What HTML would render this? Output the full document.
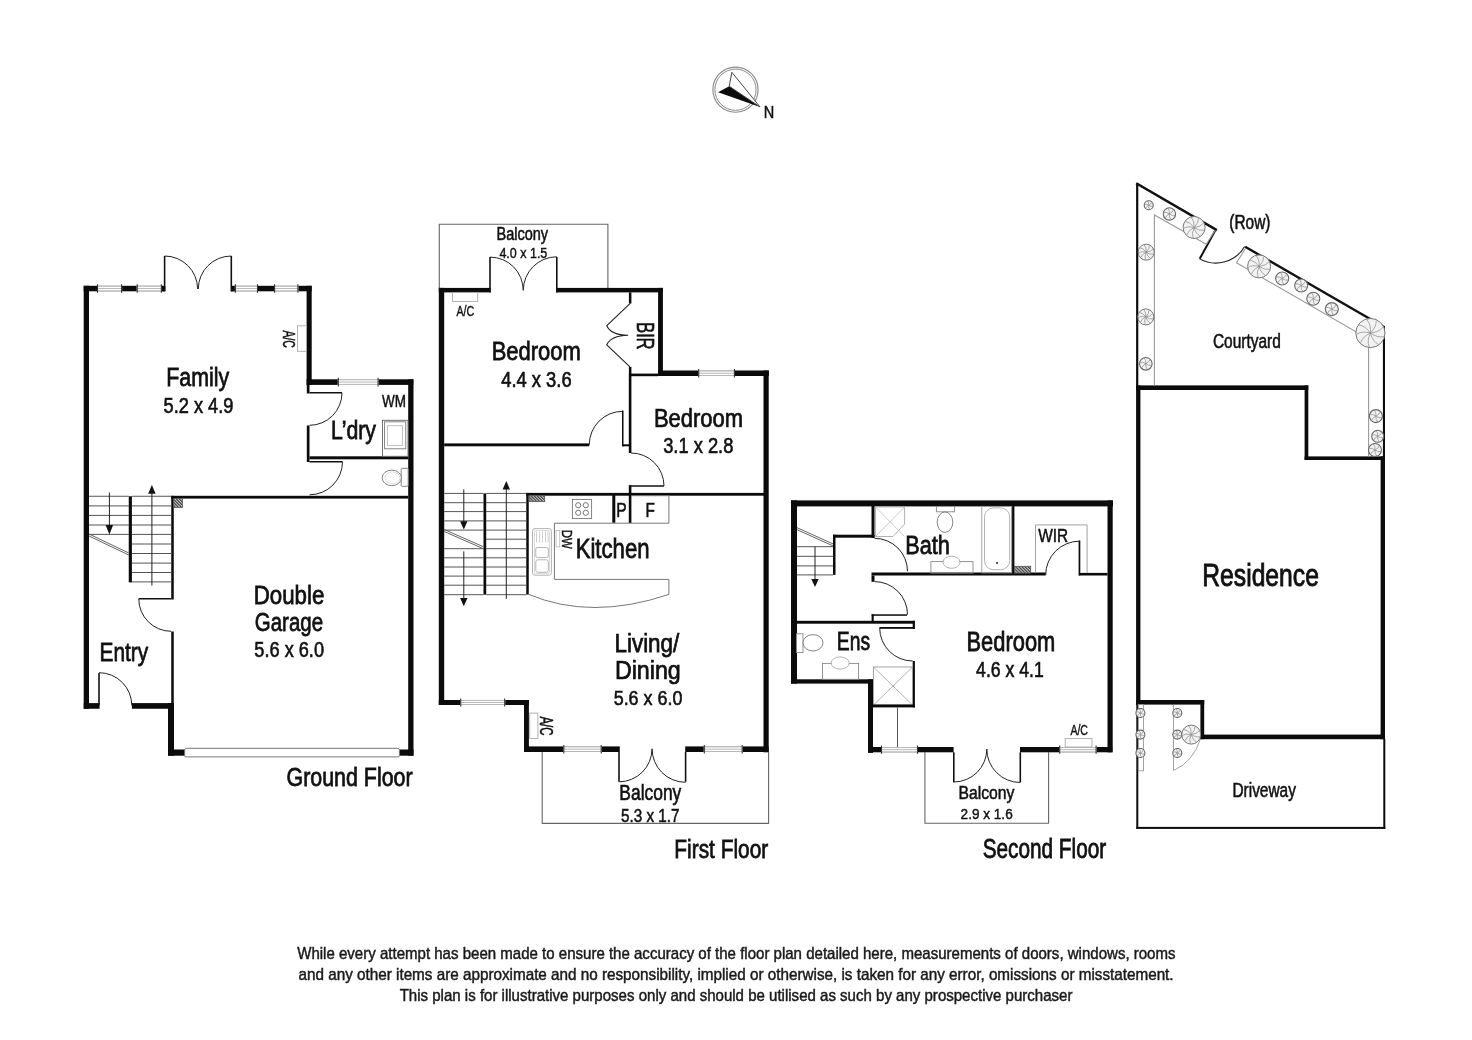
<!DOCTYPE html>
<html><head><meta charset="utf-8"><style>
html,body{margin:0;padding:0;background:#fff;}
body{width:1472px;height:1040px;overflow:hidden;}
svg{display:block;will-change:transform;}
text{font-family:"Liberation Sans",sans-serif;}
</style></head><body>
<svg width="1472" height="1040" viewBox="0 0 1472 1040">
<defs><pattern id="hat" patternUnits="userSpaceOnUse" width="2.2" height="2.2" patternTransform="rotate(-45)"><rect width="2.2" height="2.2" fill="#c8c8c8"/><rect width="1.2" height="2.2" fill="#444"/></pattern></defs>
<rect width="1472" height="1040" fill="#fff"/>
<rect x="83.70" y="285.80" width="228.00" height="5.50" fill="#0b0b0b"/>
<rect x="97.00" y="285.80" width="25.10" height="5.50" fill="#fff"/>
<line x1="97.00" y1="286.30" x2="122.10" y2="286.30" stroke="#b8b8b8" stroke-width="1.0" stroke-linecap="butt"/>
<line x1="97.00" y1="288.55" x2="122.10" y2="288.55" stroke="#b8b8b8" stroke-width="1.0" stroke-linecap="butt"/>
<line x1="97.00" y1="290.80" x2="122.10" y2="290.80" stroke="#b8b8b8" stroke-width="1.0" stroke-linecap="butt"/>
<line x1="97.50" y1="284.30" x2="97.50" y2="292.80" stroke="#333" stroke-width="1.1" stroke-linecap="butt"/>
<line x1="121.60" y1="284.30" x2="121.60" y2="292.80" stroke="#333" stroke-width="1.1" stroke-linecap="butt"/>
<rect x="136.70" y="285.80" width="25.20" height="5.50" fill="#fff"/>
<line x1="136.70" y1="286.30" x2="161.90" y2="286.30" stroke="#b8b8b8" stroke-width="1.0" stroke-linecap="butt"/>
<line x1="136.70" y1="288.55" x2="161.90" y2="288.55" stroke="#b8b8b8" stroke-width="1.0" stroke-linecap="butt"/>
<line x1="136.70" y1="290.80" x2="161.90" y2="290.80" stroke="#b8b8b8" stroke-width="1.0" stroke-linecap="butt"/>
<line x1="137.20" y1="284.30" x2="137.20" y2="292.80" stroke="#333" stroke-width="1.1" stroke-linecap="butt"/>
<line x1="161.40" y1="284.30" x2="161.40" y2="292.80" stroke="#333" stroke-width="1.1" stroke-linecap="butt"/>
<rect x="165.20" y="284.80" width="65.80" height="7.50" fill="#fff"/>
<rect x="161.90" y="286.30" width="3.30" height="5.00" fill="#0b0b0b"/>
<rect x="231.00" y="286.30" width="3.90" height="5.00" fill="#0b0b0b"/>
<rect x="234.90" y="285.80" width="23.10" height="5.50" fill="#fff"/>
<line x1="234.90" y1="286.30" x2="258.00" y2="286.30" stroke="#b8b8b8" stroke-width="1.0" stroke-linecap="butt"/>
<line x1="234.90" y1="288.55" x2="258.00" y2="288.55" stroke="#b8b8b8" stroke-width="1.0" stroke-linecap="butt"/>
<line x1="234.90" y1="290.80" x2="258.00" y2="290.80" stroke="#b8b8b8" stroke-width="1.0" stroke-linecap="butt"/>
<line x1="235.40" y1="284.30" x2="235.40" y2="292.80" stroke="#333" stroke-width="1.1" stroke-linecap="butt"/>
<line x1="257.50" y1="284.30" x2="257.50" y2="292.80" stroke="#333" stroke-width="1.1" stroke-linecap="butt"/>
<rect x="274.10" y="285.80" width="24.30" height="5.50" fill="#fff"/>
<line x1="274.10" y1="286.30" x2="298.40" y2="286.30" stroke="#b8b8b8" stroke-width="1.0" stroke-linecap="butt"/>
<line x1="274.10" y1="288.55" x2="298.40" y2="288.55" stroke="#b8b8b8" stroke-width="1.0" stroke-linecap="butt"/>
<line x1="274.10" y1="290.80" x2="298.40" y2="290.80" stroke="#b8b8b8" stroke-width="1.0" stroke-linecap="butt"/>
<line x1="274.60" y1="284.30" x2="274.60" y2="292.80" stroke="#333" stroke-width="1.1" stroke-linecap="butt"/>
<line x1="297.90" y1="284.30" x2="297.90" y2="292.80" stroke="#333" stroke-width="1.1" stroke-linecap="butt"/>
<line x1="164.60" y1="256.00" x2="164.60" y2="291.30" stroke="#111" stroke-width="1.6" stroke-linecap="butt"/>
<line x1="231.30" y1="256.00" x2="231.30" y2="291.30" stroke="#111" stroke-width="1.6" stroke-linecap="butt"/>
<path d="M164.60,256.00 A33.00,33.00 0 0 1 197.60,289.00" stroke="#222" stroke-width="1.0" fill="none" />
<path d="M231.30,256.00 A33.00,33.00 0 0 0 198.30,289.00" stroke="#222" stroke-width="1.0" fill="none" />
<rect x="83.70" y="285.80" width="5.30" height="422.95" fill="#0b0b0b"/>
<rect x="306.60" y="285.80" width="5.10" height="99.10" fill="#0b0b0b"/>
<rect x="297.5" y="325.8" width="8.9" height="25.5" fill="none" stroke="#aaa" stroke-width="0.9"/>
<g transform="translate(282.50,330.50) rotate(90)"><text x="-0.02" y="0" font-size="17.15" textLength="17.42" lengthAdjust="spacingAndGlyphs" fill="#111" stroke="#111" stroke-width="0.50">A/C</text></g>
<rect x="306.60" y="379.30" width="106.70" height="5.60" fill="#0b0b0b"/>
<rect x="337.80" y="379.30" width="40.80" height="5.60" fill="#fff"/>
<line x1="337.80" y1="379.80" x2="378.60" y2="379.80" stroke="#b8b8b8" stroke-width="1.0" stroke-linecap="butt"/>
<line x1="337.80" y1="382.10" x2="378.60" y2="382.10" stroke="#b8b8b8" stroke-width="1.0" stroke-linecap="butt"/>
<line x1="337.80" y1="384.40" x2="378.60" y2="384.40" stroke="#b8b8b8" stroke-width="1.0" stroke-linecap="butt"/>
<line x1="338.30" y1="377.80" x2="338.30" y2="386.40" stroke="#333" stroke-width="1.1" stroke-linecap="butt"/>
<line x1="378.10" y1="377.80" x2="378.10" y2="386.40" stroke="#333" stroke-width="1.1" stroke-linecap="butt"/>
<rect x="408.20" y="379.30" width="5.30" height="376.40" fill="#0b0b0b"/>
<rect x="306.80" y="384.90" width="2.70" height="8.60" fill="#0b0b0b"/>
<rect x="306.80" y="425.50" width="2.70" height="36.50" fill="#0b0b0b"/>
<line x1="309.50" y1="392.80" x2="342.00" y2="392.80" stroke="#111" stroke-width="1.5" stroke-linecap="butt"/>
<path d="M342.00,392.80 A32.50,32.50 0 0 1 309.50,425.30" stroke="#222" stroke-width="1.0" fill="none" />
<rect x="309.50" y="456.30" width="98.70" height="3.00" fill="#0b0b0b"/>
<line x1="309.50" y1="461.80" x2="342.50" y2="461.80" stroke="#111" stroke-width="1.5" stroke-linecap="butt"/>
<path d="M342.50,461.80 A33.00,33.00 0 0 1 309.50,494.80" stroke="#222" stroke-width="1.0" fill="none" />
<text x="381.94" y="407.00" font-size="16.57" textLength="23.97" lengthAdjust="spacingAndGlyphs" fill="#111" stroke="#111" stroke-width="0.48">WM</text>
<text x="331.00" y="438.90" font-size="26.16" textLength="44.94" lengthAdjust="spacingAndGlyphs" fill="#111" stroke="#111" stroke-width="0.76">L’dry</text>
<rect x="382.5" y="420.3" width="25.5" height="36" fill="#fff" stroke="#666" stroke-width="0.9"/>
<rect x="384.6" y="421.8" width="21.2" height="27.0" fill="none" stroke="#777" stroke-width="0.9"/>
<rect x="387.4" y="425.7" width="15" height="19.8" fill="none" stroke="#bbb" stroke-width="0.9"/>
<rect x="401.2" y="468.3" width="7" height="18" rx="1" fill="#fff" stroke="#777" stroke-width="0.9"/>
<ellipse cx="391.8" cy="477.9" rx="9.6" ry="7.8" fill="#fff" stroke="#777" stroke-width="0.9"/>
<ellipse cx="392.5" cy="477.9" rx="7.5" ry="6" fill="none" stroke="#ccc" stroke-width="0.7"/>
<rect x="171.25" y="495.80" width="236.95" height="2.80" fill="#0b0b0b"/>
<rect x="171.25" y="495.80" width="2.50" height="103.70" fill="#0b0b0b"/>
<rect x="171.25" y="631.50" width="2.50" height="72.00" fill="#0b0b0b"/>
<line x1="138.75" y1="598.80" x2="171.25" y2="598.80" stroke="#111" stroke-width="1.5" stroke-linecap="butt"/>
<path d="M138.75,598.80 A32.50,32.50 0 0 0 171.25,631.30" stroke="#222" stroke-width="1.0" fill="none" />
<rect x="168.00" y="703.00" width="6.00" height="52.70" fill="#0b0b0b"/>
<rect x="83.75" y="703.10" width="15.85" height="5.65" fill="#0b0b0b"/>
<rect x="131.90" y="703.10" width="42.10" height="5.65" fill="#0b0b0b"/>
<line x1="99.00" y1="673.00" x2="99.00" y2="705.00" stroke="#111" stroke-width="1.6" stroke-linecap="butt"/>
<path d="M99.00,672.70 A32.80,32.80 0 0 1 131.80,705.50" stroke="#222" stroke-width="1.0" fill="none" />
<rect x="168.00" y="749.50" width="245.50" height="6.20" fill="#0b0b0b"/>
<rect x="184.7" y="748.3" width="214.7" height="8.6" rx="1.5" fill="#fff" stroke="#777" stroke-width="1.0"/>
<rect x="173.75" y="498.60" width="8.75" height="8.90" fill="url(#hat)" stroke="#555" stroke-width="0.8"/>
<line x1="89.00" y1="496.25" x2="128.75" y2="496.25" stroke="#555" stroke-width="1.0" stroke-linecap="butt"/>
<line x1="131.90" y1="496.25" x2="171.25" y2="496.25" stroke="#555" stroke-width="1.0" stroke-linecap="butt"/>
<line x1="89.00" y1="505.90" x2="128.75" y2="505.90" stroke="#555" stroke-width="1.0" stroke-linecap="butt"/>
<line x1="131.90" y1="505.90" x2="171.25" y2="505.90" stroke="#555" stroke-width="1.0" stroke-linecap="butt"/>
<line x1="89.00" y1="515.40" x2="128.75" y2="515.40" stroke="#555" stroke-width="1.0" stroke-linecap="butt"/>
<line x1="131.90" y1="515.40" x2="171.25" y2="515.40" stroke="#555" stroke-width="1.0" stroke-linecap="butt"/>
<line x1="89.00" y1="525.00" x2="128.75" y2="525.00" stroke="#555" stroke-width="1.0" stroke-linecap="butt"/>
<line x1="131.90" y1="525.00" x2="171.25" y2="525.00" stroke="#555" stroke-width="1.0" stroke-linecap="butt"/>
<line x1="89.00" y1="534.40" x2="128.75" y2="534.40" stroke="#555" stroke-width="1.0" stroke-linecap="butt"/>
<line x1="131.90" y1="534.40" x2="171.25" y2="534.40" stroke="#555" stroke-width="1.0" stroke-linecap="butt"/>
<line x1="131.90" y1="544.00" x2="171.25" y2="544.00" stroke="#555" stroke-width="1.0" stroke-linecap="butt"/>
<line x1="131.90" y1="553.50" x2="171.25" y2="553.50" stroke="#555" stroke-width="1.0" stroke-linecap="butt"/>
<line x1="131.90" y1="563.10" x2="171.25" y2="563.10" stroke="#555" stroke-width="1.0" stroke-linecap="butt"/>
<line x1="131.90" y1="572.50" x2="171.25" y2="572.50" stroke="#555" stroke-width="1.0" stroke-linecap="butt"/>
<line x1="131.90" y1="581.90" x2="171.25" y2="581.90" stroke="#555" stroke-width="1.0" stroke-linecap="butt"/>
<rect x="128.75" y="496.25" width="3.15" height="86.15" fill="#0b0b0b"/>
<line x1="109.40" y1="492.50" x2="109.40" y2="526.00" stroke="#222" stroke-width="1.0" stroke-linecap="butt"/>
<path d="M105.6,525 L113.1,525 L109.4,534.4 Z" stroke="none" stroke-width="1.0" fill="#111" />
<line x1="151.90" y1="585.60" x2="151.90" y2="493.00" stroke="#222" stroke-width="1.0" stroke-linecap="butt"/>
<path d="M148.1,493.75 L155.6,493.75 L151.9,485.0 Z" stroke="none" stroke-width="1.0" fill="#111" />
<line x1="89.00" y1="534.00" x2="128.75" y2="553.00" stroke="#666" stroke-width="1.0" stroke-linecap="butt"/>
<line x1="89.00" y1="536.00" x2="128.75" y2="555.00" stroke="#666" stroke-width="1.0" stroke-linecap="butt"/>
<text x="166.25" y="386.20" font-size="26.16" textLength="62.89" lengthAdjust="spacingAndGlyphs" fill="#111" stroke="#111" stroke-width="0.76">Family</text>
<text x="163.57" y="412.60" font-size="22.24" textLength="69.79" lengthAdjust="spacingAndGlyphs" fill="#111" stroke="#111" stroke-width="0.64">5.2 x 4.9</text>
<text x="99.54" y="660.60" font-size="26.31" textLength="48.60" lengthAdjust="spacingAndGlyphs" fill="#111" stroke="#111" stroke-width="0.76">Entry</text>
<text x="253.67" y="604.10" font-size="26.16" textLength="70.62" lengthAdjust="spacingAndGlyphs" fill="#111" stroke="#111" stroke-width="0.76">Double</text>
<text x="254.87" y="630.70" font-size="26.16" textLength="68.14" lengthAdjust="spacingAndGlyphs" fill="#111" stroke="#111" stroke-width="0.76">Garage</text>
<text x="254.37" y="657.20" font-size="21.95" textLength="69.64" lengthAdjust="spacingAndGlyphs" fill="#111" stroke="#111" stroke-width="0.63">5.6 x 6.0</text>
<text x="286.52" y="786.20" font-size="26.31" textLength="126.13" lengthAdjust="spacingAndGlyphs" fill="#111" stroke="#111" stroke-width="0.76">Ground Floor</text>
<path d="M439.3,288 L439.3,224.3 L607.9,224.3 L607.9,288" fill="none" stroke="#666" stroke-width="1.1"/>
<rect x="438.80" y="287.90" width="51.80" height="4.50" fill="#0b0b0b"/>
<rect x="556.20" y="287.90" width="106.70" height="4.50" fill="#0b0b0b"/>
<line x1="490.00" y1="256.90" x2="490.00" y2="292.40" stroke="#111" stroke-width="1.6" stroke-linecap="butt"/>
<line x1="556.80" y1="256.90" x2="556.80" y2="292.40" stroke="#111" stroke-width="1.6" stroke-linecap="butt"/>
<path d="M490.00,257.10 A33.20,33.20 0 0 1 523.20,290.30" stroke="#222" stroke-width="1.0" fill="none" />
<path d="M556.80,256.80 A33.50,33.50 0 0 0 523.30,290.30" stroke="#222" stroke-width="1.0" fill="none" />
<text x="496.51" y="240.20" font-size="17.88" textLength="51.62" lengthAdjust="spacingAndGlyphs" fill="#111" stroke="#111" stroke-width="0.52">Balcony</text>
<text x="499.41" y="258.20" font-size="14.97" textLength="47.91" lengthAdjust="spacingAndGlyphs" fill="#111" stroke="#111" stroke-width="0.43">4.0 x 1.5</text>
<rect x="452.6" y="292.4" width="25.1" height="9.1" fill="none" stroke="#aaa" stroke-width="0.9"/>
<text x="456.48" y="316.30" font-size="14.97" textLength="17.83" lengthAdjust="spacingAndGlyphs" fill="#111" stroke="#111" stroke-width="0.43">A/C</text>
<rect x="438.80" y="287.90" width="5.40" height="417.10" fill="#0b0b0b"/>
<rect x="658.10" y="287.90" width="4.80" height="88.10" fill="#0b0b0b"/>
<rect x="628.90" y="292.40" width="2.50" height="11.10" fill="#0b0b0b"/>
<rect x="628.90" y="367.00" width="2.50" height="9.00" fill="#0b0b0b"/>
<path d="M630.2,303.3 L606.8,325.7 Q611,335 628.2,335.3 Q611,335.6 606.8,344.8 L630.2,367.1" stroke="#222" stroke-width="1.1" fill="none" />
<g transform="translate(636.60,323.70) rotate(90)"><text x="-1.34" y="0" font-size="23.69" textLength="27.19" lengthAdjust="spacingAndGlyphs" fill="#111" stroke="#111" stroke-width="0.68">BIR</text></g>
<rect x="658.10" y="370.50" width="110.80" height="5.50" fill="#0b0b0b"/>
<rect x="698.20" y="370.50" width="36.70" height="5.50" fill="#fff"/>
<line x1="698.20" y1="371.00" x2="734.90" y2="371.00" stroke="#b8b8b8" stroke-width="1.0" stroke-linecap="butt"/>
<line x1="698.20" y1="373.25" x2="734.90" y2="373.25" stroke="#b8b8b8" stroke-width="1.0" stroke-linecap="butt"/>
<line x1="698.20" y1="375.50" x2="734.90" y2="375.50" stroke="#b8b8b8" stroke-width="1.0" stroke-linecap="butt"/>
<line x1="698.70" y1="369.00" x2="698.70" y2="377.50" stroke="#333" stroke-width="1.1" stroke-linecap="butt"/>
<line x1="734.40" y1="369.00" x2="734.40" y2="377.50" stroke="#333" stroke-width="1.1" stroke-linecap="butt"/>
<rect x="628.90" y="373.60" width="29.20" height="2.60" fill="#0b0b0b"/>
<rect x="763.50" y="370.50" width="5.20" height="381.80" fill="#0b0b0b"/>
<rect x="628.80" y="376.00" width="2.60" height="77.00" fill="#0b0b0b"/>
<rect x="628.80" y="485.20" width="2.60" height="37.80" fill="#0b0b0b"/>
<rect x="444.20" y="443.40" width="145.00" height="2.90" fill="#0b0b0b"/>
<rect x="622.00" y="410.50" width="1.50" height="35.80" fill="#0b0b0b"/>
<rect x="622.00" y="444.30" width="9.00" height="2.00" fill="#0b0b0b"/>
<path d="M622.75,411.30 A33.50,33.50 0 0 0 589.25,444.80" stroke="#222" stroke-width="1.0" fill="none" />
<path d="M631.00,453.00 A33.00,33.00 0 0 1 664.00,486.00" stroke="#222" stroke-width="1.0" fill="none" />
<line x1="629.50" y1="486.00" x2="664.00" y2="486.00" stroke="#111" stroke-width="1.5" stroke-linecap="butt"/>
<rect x="526.25" y="492.90" width="241.75" height="2.80" fill="#0b0b0b"/>
<rect x="526.25" y="492.90" width="2.50" height="101.70" fill="#0b0b0b"/>
<rect x="612.30" y="495.00" width="3.00" height="27.80" fill="#0b0b0b"/>
<text x="616.22" y="516.60" font-size="20.64" textLength="10.40" lengthAdjust="spacingAndGlyphs" fill="#111" stroke="#111" stroke-width="0.60">P</text>
<path d="M631.4,495.7 L668.9,495.7 L668.9,523.2 L554.4,523.2 L554.4,579.4 L668.9,579.4 L668.9,594.4 Q591.2,620.6 528.75,594.4" fill="none" stroke="#777" stroke-width="1.0"/>
<text x="645.44" y="516.60" font-size="20.64" textLength="9.37" lengthAdjust="spacingAndGlyphs" fill="#111" stroke="#111" stroke-width="0.60">F</text>
<rect x="572.4" y="499.4" width="19.2" height="19.2" fill="none" stroke="#777" stroke-width="0.9"/>
<circle cx="578.2" cy="505.2" r="2.6" fill="none" stroke="#666" stroke-width="0.9"/>
<circle cx="585.8" cy="505.2" r="2.6" fill="none" stroke="#666" stroke-width="0.9"/>
<circle cx="578.2" cy="512.8" r="2.6" fill="none" stroke="#666" stroke-width="0.9"/>
<circle cx="585.8" cy="512.8" r="2.6" fill="none" stroke="#666" stroke-width="0.9"/>
<rect x="532.5" y="528.6" width="18.9" height="46.6" rx="2.5" fill="none" stroke="#aaa" stroke-width="0.9"/>
<rect x="534.5" y="530.5" width="15" height="43" rx="1.5" fill="none" stroke="#ccc" stroke-width="0.7"/>
<line x1="536.50" y1="531.50" x2="536.50" y2="542.50" stroke="#bbb" stroke-width="0.7" stroke-linecap="butt"/>
<line x1="539.50" y1="531.50" x2="539.50" y2="542.50" stroke="#bbb" stroke-width="0.7" stroke-linecap="butt"/>
<line x1="542.50" y1="531.50" x2="542.50" y2="542.50" stroke="#bbb" stroke-width="0.7" stroke-linecap="butt"/>
<line x1="545.50" y1="531.50" x2="545.50" y2="542.50" stroke="#bbb" stroke-width="0.7" stroke-linecap="butt"/>
<line x1="548.00" y1="531.50" x2="548.00" y2="542.50" stroke="#bbb" stroke-width="0.7" stroke-linecap="butt"/>
<rect x="535.8" y="547.5" width="12.5" height="10" rx="1.5" fill="none" stroke="#aaa" stroke-width="0.9"/>
<rect x="535.8" y="559.8" width="12.5" height="12.5" rx="2" fill="none" stroke="#aaa" stroke-width="0.9"/>
<rect x="556.0" y="530.4" width="3.7" height="16.5" fill="none" stroke="#bbb" stroke-width="0.8"/>
<g transform="translate(561.90,530.60) rotate(90)"><text x="-0.94" y="0" font-size="15.41" textLength="19.13" lengthAdjust="spacingAndGlyphs" fill="#111" stroke="#111" stroke-width="0.45">DW</text></g>
<text x="575.68" y="558.10" font-size="27.18" textLength="73.85" lengthAdjust="spacingAndGlyphs" fill="#111" stroke="#111" stroke-width="0.79">Kitchen</text>
<rect x="529.00" y="495.70" width="15.70" height="5.90" fill="url(#hat)" stroke="#555" stroke-width="0.8"/>
<line x1="444.20" y1="493.40" x2="483.50" y2="493.40" stroke="#555" stroke-width="1.0" stroke-linecap="butt"/>
<line x1="486.20" y1="493.40" x2="526.25" y2="493.40" stroke="#555" stroke-width="1.0" stroke-linecap="butt"/>
<line x1="444.20" y1="502.70" x2="483.50" y2="502.70" stroke="#555" stroke-width="1.0" stroke-linecap="butt"/>
<line x1="486.20" y1="502.70" x2="526.25" y2="502.70" stroke="#555" stroke-width="1.0" stroke-linecap="butt"/>
<line x1="444.20" y1="511.60" x2="483.50" y2="511.60" stroke="#555" stroke-width="1.0" stroke-linecap="butt"/>
<line x1="486.20" y1="511.60" x2="526.25" y2="511.60" stroke="#555" stroke-width="1.0" stroke-linecap="butt"/>
<line x1="444.20" y1="520.90" x2="483.50" y2="520.90" stroke="#555" stroke-width="1.0" stroke-linecap="butt"/>
<line x1="486.20" y1="520.90" x2="526.25" y2="520.90" stroke="#555" stroke-width="1.0" stroke-linecap="butt"/>
<line x1="444.20" y1="530.10" x2="483.50" y2="530.10" stroke="#555" stroke-width="1.0" stroke-linecap="butt"/>
<line x1="486.20" y1="530.10" x2="526.25" y2="530.10" stroke="#555" stroke-width="1.0" stroke-linecap="butt"/>
<line x1="486.20" y1="539.20" x2="526.25" y2="539.20" stroke="#555" stroke-width="1.0" stroke-linecap="butt"/>
<line x1="444.20" y1="548.70" x2="483.50" y2="548.70" stroke="#555" stroke-width="1.0" stroke-linecap="butt"/>
<line x1="486.20" y1="548.70" x2="526.25" y2="548.70" stroke="#555" stroke-width="1.0" stroke-linecap="butt"/>
<line x1="444.20" y1="557.80" x2="483.50" y2="557.80" stroke="#555" stroke-width="1.0" stroke-linecap="butt"/>
<line x1="486.20" y1="557.80" x2="526.25" y2="557.80" stroke="#555" stroke-width="1.0" stroke-linecap="butt"/>
<line x1="444.20" y1="567.00" x2="483.50" y2="567.00" stroke="#555" stroke-width="1.0" stroke-linecap="butt"/>
<line x1="486.20" y1="567.00" x2="526.25" y2="567.00" stroke="#555" stroke-width="1.0" stroke-linecap="butt"/>
<line x1="444.20" y1="576.10" x2="483.50" y2="576.10" stroke="#555" stroke-width="1.0" stroke-linecap="butt"/>
<line x1="486.20" y1="576.10" x2="526.25" y2="576.10" stroke="#555" stroke-width="1.0" stroke-linecap="butt"/>
<line x1="444.20" y1="585.20" x2="483.50" y2="585.20" stroke="#555" stroke-width="1.0" stroke-linecap="butt"/>
<line x1="486.20" y1="585.20" x2="526.25" y2="585.20" stroke="#555" stroke-width="1.0" stroke-linecap="butt"/>
<line x1="444.20" y1="594.70" x2="483.50" y2="594.70" stroke="#555" stroke-width="1.0" stroke-linecap="butt"/>
<line x1="486.20" y1="594.70" x2="526.25" y2="594.70" stroke="#555" stroke-width="1.0" stroke-linecap="butt"/>
<rect x="483.50" y="493.40" width="2.70" height="101.30" fill="#0b0b0b"/>
<line x1="463.80" y1="489.40" x2="463.80" y2="522.00" stroke="#222" stroke-width="1.0" stroke-linecap="butt"/>
<path d="M460.1,521.3 L467.5,521.3 L463.8,529.5 Z" stroke="none" stroke-width="1.0" fill="#111" />
<line x1="463.80" y1="551.40" x2="463.80" y2="599.00" stroke="#222" stroke-width="1.0" stroke-linecap="butt"/>
<path d="M460.1,598 L467.5,598 L463.8,606.2 Z" stroke="none" stroke-width="1.0" fill="#111" />
<line x1="506.30" y1="598.90" x2="506.30" y2="489.00" stroke="#222" stroke-width="1.0" stroke-linecap="butt"/>
<path d="M502.6,489.4 L510.0,489.4 L506.3,481.1 Z" stroke="none" stroke-width="1.0" fill="#111" />
<line x1="444.20" y1="529.50" x2="483.50" y2="546.80" stroke="#666" stroke-width="1.0" stroke-linecap="butt"/>
<line x1="444.20" y1="531.50" x2="483.50" y2="548.80" stroke="#666" stroke-width="1.0" stroke-linecap="butt"/>
<rect x="438.80" y="700.00" width="90.10" height="5.00" fill="#0b0b0b"/>
<rect x="460.20" y="700.00" width="45.00" height="5.00" fill="#fff"/>
<line x1="460.20" y1="700.50" x2="505.20" y2="700.50" stroke="#b8b8b8" stroke-width="1.0" stroke-linecap="butt"/>
<line x1="460.20" y1="702.50" x2="505.20" y2="702.50" stroke="#b8b8b8" stroke-width="1.0" stroke-linecap="butt"/>
<line x1="460.20" y1="704.50" x2="505.20" y2="704.50" stroke="#b8b8b8" stroke-width="1.0" stroke-linecap="butt"/>
<line x1="460.70" y1="698.50" x2="460.70" y2="706.50" stroke="#333" stroke-width="1.1" stroke-linecap="butt"/>
<line x1="504.70" y1="698.50" x2="504.70" y2="706.50" stroke="#333" stroke-width="1.1" stroke-linecap="butt"/>
<rect x="524.00" y="700.00" width="4.90" height="51.80" fill="#0b0b0b"/>
<rect x="529.7" y="713.1" width="8.2" height="25.4" fill="none" stroke="#aaa" stroke-width="0.9"/>
<g transform="translate(540.40,716.40) rotate(90)"><text x="-0.02" y="0" font-size="17.73" textLength="19.26" lengthAdjust="spacingAndGlyphs" fill="#111" stroke="#111" stroke-width="0.51">A/C</text></g>
<rect x="524.00" y="746.40" width="95.80" height="5.60" fill="#0b0b0b"/>
<rect x="685.20" y="746.40" width="83.50" height="5.60" fill="#0b0b0b"/>
<rect x="563.30" y="746.40" width="38.40" height="5.60" fill="#fff"/>
<line x1="563.30" y1="746.90" x2="601.70" y2="746.90" stroke="#b8b8b8" stroke-width="1.0" stroke-linecap="butt"/>
<line x1="563.30" y1="749.20" x2="601.70" y2="749.20" stroke="#b8b8b8" stroke-width="1.0" stroke-linecap="butt"/>
<line x1="563.30" y1="751.50" x2="601.70" y2="751.50" stroke="#b8b8b8" stroke-width="1.0" stroke-linecap="butt"/>
<line x1="563.80" y1="744.90" x2="563.80" y2="753.50" stroke="#333" stroke-width="1.1" stroke-linecap="butt"/>
<line x1="601.20" y1="744.90" x2="601.20" y2="753.50" stroke="#333" stroke-width="1.1" stroke-linecap="butt"/>
<rect x="703.80" y="746.40" width="38.90" height="5.60" fill="#fff"/>
<line x1="703.80" y1="746.90" x2="742.70" y2="746.90" stroke="#b8b8b8" stroke-width="1.0" stroke-linecap="butt"/>
<line x1="703.80" y1="749.20" x2="742.70" y2="749.20" stroke="#b8b8b8" stroke-width="1.0" stroke-linecap="butt"/>
<line x1="703.80" y1="751.50" x2="742.70" y2="751.50" stroke="#b8b8b8" stroke-width="1.0" stroke-linecap="butt"/>
<line x1="704.30" y1="744.90" x2="704.30" y2="753.50" stroke="#333" stroke-width="1.1" stroke-linecap="butt"/>
<line x1="742.20" y1="744.90" x2="742.20" y2="753.50" stroke="#333" stroke-width="1.1" stroke-linecap="butt"/>
<path d="M542.2,752 L542.2,823.4 L768.6,823.4 L768.6,752" fill="none" stroke="#666" stroke-width="1.1"/>
<line x1="619.00" y1="752.00" x2="619.00" y2="781.80" stroke="#111" stroke-width="1.6" stroke-linecap="butt"/>
<line x1="685.60" y1="752.00" x2="685.60" y2="781.80" stroke="#111" stroke-width="1.6" stroke-linecap="butt"/>
<path d="M619.00,781.80 A33.00,33.00 0 0 0 652.00,748.80" stroke="#222" stroke-width="1.0" fill="none" />
<path d="M685.60,782.30 A33.50,33.50 0 0 1 652.10,748.80" stroke="#222" stroke-width="1.0" fill="none" />
<text x="619.37" y="799.50" font-size="21.80" textLength="61.96" lengthAdjust="spacingAndGlyphs" fill="#111" stroke="#111" stroke-width="0.63">Balcony</text>
<text x="620.99" y="821.50" font-size="18.31" textLength="58.48" lengthAdjust="spacingAndGlyphs" fill="#111" stroke="#111" stroke-width="0.53">5.3 x 1.7</text>
<text x="491.70" y="360.30" font-size="26.60" textLength="89.15" lengthAdjust="spacingAndGlyphs" fill="#111" stroke="#111" stroke-width="0.77">Bedroom</text>
<text x="501.28" y="386.80" font-size="22.82" textLength="70.33" lengthAdjust="spacingAndGlyphs" fill="#111" stroke="#111" stroke-width="0.66">4.4 x 3.6</text>
<text x="653.90" y="426.90" font-size="25.58" textLength="89.15" lengthAdjust="spacingAndGlyphs" fill="#111" stroke="#111" stroke-width="0.74">Bedroom</text>
<text x="663.20" y="453.10" font-size="21.22" textLength="70.19" lengthAdjust="spacingAndGlyphs" fill="#111" stroke="#111" stroke-width="0.61">3.1 x 2.8</text>
<text x="614.46" y="652.20" font-size="25.87" textLength="64.84" lengthAdjust="spacingAndGlyphs" fill="#111" stroke="#111" stroke-width="0.75">Living/</text>
<text x="614.89" y="678.70" font-size="25.44" textLength="65.91" lengthAdjust="spacingAndGlyphs" fill="#111" stroke="#111" stroke-width="0.74">Dining</text>
<text x="613.68" y="705.10" font-size="20.35" textLength="68.72" lengthAdjust="spacingAndGlyphs" fill="#111" stroke="#111" stroke-width="0.59">5.6 x 6.0</text>
<text x="674.29" y="858.20" font-size="26.16" textLength="93.96" lengthAdjust="spacingAndGlyphs" fill="#111" stroke="#111" stroke-width="0.76">First Floor</text>
<rect x="791.00" y="500.40" width="322.00" height="6.00" fill="#0b0b0b"/>
<rect x="791.00" y="500.40" width="6.00" height="183.20" fill="#0b0b0b"/>
<rect x="1107.50" y="500.40" width="5.20" height="251.90" fill="#0b0b0b"/>
<rect x="791.00" y="679.30" width="82.00" height="4.30" fill="#0b0b0b"/>
<rect x="868.00" y="679.30" width="5.00" height="73.60" fill="#0b0b0b"/>
<rect x="868.00" y="747.00" width="85.60" height="5.30" fill="#0b0b0b"/>
<rect x="1020.00" y="747.00" width="92.30" height="5.30" fill="#0b0b0b"/>
<rect x="881.00" y="747.00" width="37.00" height="5.30" fill="#fff"/>
<line x1="881.00" y1="747.50" x2="918.00" y2="747.50" stroke="#b8b8b8" stroke-width="1.0" stroke-linecap="butt"/>
<line x1="881.00" y1="749.65" x2="918.00" y2="749.65" stroke="#b8b8b8" stroke-width="1.0" stroke-linecap="butt"/>
<line x1="881.00" y1="751.80" x2="918.00" y2="751.80" stroke="#b8b8b8" stroke-width="1.0" stroke-linecap="butt"/>
<line x1="881.50" y1="745.50" x2="881.50" y2="753.80" stroke="#333" stroke-width="1.1" stroke-linecap="butt"/>
<line x1="917.50" y1="745.50" x2="917.50" y2="753.80" stroke="#333" stroke-width="1.1" stroke-linecap="butt"/>
<rect x="1059.20" y="747.00" width="37.40" height="5.30" fill="#fff"/>
<line x1="1059.20" y1="747.50" x2="1096.60" y2="747.50" stroke="#b8b8b8" stroke-width="1.0" stroke-linecap="butt"/>
<line x1="1059.20" y1="749.65" x2="1096.60" y2="749.65" stroke="#b8b8b8" stroke-width="1.0" stroke-linecap="butt"/>
<line x1="1059.20" y1="751.80" x2="1096.60" y2="751.80" stroke="#b8b8b8" stroke-width="1.0" stroke-linecap="butt"/>
<line x1="1059.70" y1="745.50" x2="1059.70" y2="753.80" stroke="#333" stroke-width="1.1" stroke-linecap="butt"/>
<line x1="1096.10" y1="745.50" x2="1096.10" y2="753.80" stroke="#333" stroke-width="1.1" stroke-linecap="butt"/>
<path d="M924.9,752 L924.9,823.3 L1048.6,823.3 L1048.6,752" fill="none" stroke="#666" stroke-width="1.1"/>
<line x1="953.80" y1="752.30" x2="953.80" y2="782.20" stroke="#111" stroke-width="1.6" stroke-linecap="butt"/>
<line x1="1020.30" y1="752.30" x2="1020.30" y2="782.20" stroke="#111" stroke-width="1.6" stroke-linecap="butt"/>
<path d="M953.80,782.00 A33.00,33.00 0 0 0 986.80,749.00" stroke="#222" stroke-width="1.0" fill="none" />
<path d="M1020.30,782.50 A33.50,33.50 0 0 1 986.80,749.00" stroke="#222" stroke-width="1.0" fill="none" />
<text x="958.51" y="799.40" font-size="18.46" textLength="55.92" lengthAdjust="spacingAndGlyphs" fill="#111" stroke="#111" stroke-width="0.53">Balcony</text>
<text x="960.62" y="818.80" font-size="15.12" textLength="52.08" lengthAdjust="spacingAndGlyphs" fill="#111" stroke="#111" stroke-width="0.44">2.9 x 1.6</text>
<rect x="1065.2" y="738.6" width="26.8" height="8.4" fill="none" stroke="#aaa" stroke-width="0.9"/>
<text x="1070.38" y="735.10" font-size="14.10" textLength="17.62" lengthAdjust="spacingAndGlyphs" fill="#111" stroke="#111" stroke-width="0.41">A/C</text>
<rect x="871.50" y="506.00" width="3.00" height="32.00" fill="#0b0b0b"/>
<rect x="833.00" y="534.70" width="41.50" height="3.00" fill="#0b0b0b"/>
<rect x="833.00" y="534.70" width="2.50" height="40.20" fill="#0b0b0b"/>
<line x1="797.00" y1="546.70" x2="833.00" y2="546.70" stroke="#555" stroke-width="1.0" stroke-linecap="butt"/>
<line x1="797.00" y1="556.30" x2="833.00" y2="556.30" stroke="#555" stroke-width="1.0" stroke-linecap="butt"/>
<line x1="797.00" y1="565.90" x2="833.00" y2="565.90" stroke="#555" stroke-width="1.0" stroke-linecap="butt"/>
<line x1="797.00" y1="574.90" x2="833.00" y2="574.90" stroke="#555" stroke-width="1.0" stroke-linecap="butt"/>
<line x1="815.00" y1="546.70" x2="815.00" y2="580.00" stroke="#222" stroke-width="1.0" stroke-linecap="butt"/>
<path d="M811.3,579.1 L818.7,579.1 L815.0,587.0 Z" stroke="none" stroke-width="1.0" fill="#111" />
<line x1="797.00" y1="527.70" x2="833.00" y2="543.90" stroke="#666" stroke-width="1.0" stroke-linecap="butt"/>
<line x1="797.00" y1="529.70" x2="833.00" y2="545.90" stroke="#666" stroke-width="1.0" stroke-linecap="butt"/>
<path d="M874.50,538.30 A33.00,33.00 0 0 1 907.50,571.30" stroke="#222" stroke-width="1.0" fill="none" />
<rect x="871.50" y="572.50" width="174.20" height="3.00" fill="#0b0b0b"/>
<rect x="1078.90" y="572.90" width="28.60" height="2.60" fill="#0b0b0b"/>
<rect x="1011.70" y="506.00" width="2.70" height="69.00" fill="#0b0b0b"/>
<rect x="871.50" y="575.50" width="3.00" height="6.30" fill="#0b0b0b"/>
<path d="M874.50,581.60 A33.00,33.00 0 0 1 907.50,614.60" stroke="#222" stroke-width="1.0" fill="none" />
<rect x="871.60" y="614.30" width="35.40" height="1.50" fill="#0b0b0b"/>
<rect x="871.60" y="614.30" width="2.10" height="6.70" fill="#0b0b0b"/>
<rect x="796.50" y="620.80" width="118.40" height="2.90" fill="#0b0b0b"/>
<rect x="912.70" y="620.80" width="2.20" height="8.00" fill="#0b0b0b"/>
<rect x="879.50" y="627.00" width="35.40" height="1.80" fill="#0b0b0b"/>
<path d="M879.70,628.00 A33.00,33.00 0 0 0 912.70,661.00" stroke="#222" stroke-width="1.0" fill="none" />
<rect x="912.70" y="661.00" width="2.20" height="46.40" fill="#0b0b0b"/>
<rect x="873.5" y="667.0" width="39" height="38" fill="none" stroke="#999" stroke-width="0.9"/>
<line x1="873.50" y1="667.00" x2="912.50" y2="705.00" stroke="#aaa" stroke-width="0.9" stroke-linecap="butt"/>
<line x1="912.50" y1="667.00" x2="873.50" y2="705.00" stroke="#aaa" stroke-width="0.9" stroke-linecap="butt"/>
<rect x="873.00" y="704.50" width="41.90" height="2.90" fill="#0b0b0b"/>
<line x1="897.50" y1="707.40" x2="897.50" y2="747.00" stroke="#555" stroke-width="1.0" stroke-linecap="butt"/>
<rect x="796.5" y="633.8" width="6.5" height="18.8" fill="#fff" stroke="#888" stroke-width="0.9"/>
<ellipse cx="813.0" cy="642.8" rx="10" ry="8.2" fill="#fff" stroke="#777" stroke-width="0.9"/>
<rect x="822.5" y="663.4" width="36.1" height="15.9" fill="none" stroke="#888" stroke-width="0.9"/>
<ellipse cx="840.2" cy="663.0" rx="9" ry="6.1" fill="#fff" stroke="#aaa" stroke-width="0.9"/>
<path d="M875.5,507 L904.6,507 L904.6,524 L893,536.5 L875.5,536.5 Z" fill="none" stroke="#aaa" stroke-width="0.9"/>
<line x1="875.50" y1="507.00" x2="904.60" y2="536.50" stroke="#bbb" stroke-width="0.8" stroke-linecap="butt"/>
<line x1="904.60" y1="507.00" x2="875.50" y2="536.50" stroke="#bbb" stroke-width="0.8" stroke-linecap="butt"/>
<rect x="936.4" y="506.4" width="18.1" height="5.4" fill="#fff" stroke="#888" stroke-width="0.9"/>
<ellipse cx="945.0" cy="522.2" rx="7.8" ry="10.2" fill="#fff" stroke="#777" stroke-width="0.9"/>
<rect x="930.9" y="561.6" width="42.1" height="11.5" fill="none" stroke="#888" stroke-width="0.9"/>
<ellipse cx="951.5" cy="562.2" rx="8.5" ry="6.1" fill="#fff" stroke="#aaa" stroke-width="0.9"/>
<rect x="981.8" y="506.4" width="29.9" height="66.5" fill="none" stroke="#999" stroke-width="0.9"/>
<rect x="984.5" y="507.9" width="25.2" height="61.8" rx="9" fill="none" stroke="#aaa" stroke-width="0.9"/>
<circle cx="997.0" cy="563.0" r="1.0" fill="#222"/>
<rect x="1014.40" y="566.30" width="16.30" height="6.80" fill="url(#hat)" stroke="#555" stroke-width="0.8"/>
<path d="M1035.5,573 L1035.5,524.9 L1087.1,524.9 L1087.1,573" fill="none" stroke="#999" stroke-width="0.9"/>
<rect x="1078.60" y="540.50" width="1.70" height="35.00" fill="#0b0b0b"/>
<path d="M1079.50,541.20 A33.80,33.80 0 0 0 1045.70,575.00" stroke="#222" stroke-width="1.0" fill="none" />
<text x="1038.13" y="541.90" font-size="18.75" textLength="29.98" lengthAdjust="spacingAndGlyphs" fill="#111" stroke="#111" stroke-width="0.54">WIR</text>
<text x="905.22" y="553.90" font-size="26.16" textLength="44.69" lengthAdjust="spacingAndGlyphs" fill="#111" stroke="#111" stroke-width="0.76">Bath</text>
<text x="836.82" y="650.40" font-size="26.16" textLength="33.28" lengthAdjust="spacingAndGlyphs" fill="#111" stroke="#111" stroke-width="0.76">Ens</text>
<text x="966.50" y="650.60" font-size="27.33" textLength="88.84" lengthAdjust="spacingAndGlyphs" fill="#111" stroke="#111" stroke-width="0.79">Bedroom</text>
<text x="976.10" y="677.00" font-size="22.53" textLength="67.67" lengthAdjust="spacingAndGlyphs" fill="#111" stroke="#111" stroke-width="0.65">4.6 x 4.1</text>
<text x="982.66" y="858.30" font-size="27.62" textLength="123.49" lengthAdjust="spacingAndGlyphs" fill="#111" stroke="#111" stroke-width="0.80">Second Floor</text>
<rect x="1136.10" y="183.00" width="2.20" height="203.00" fill="#0b0b0b"/>
<rect x="1136.10" y="385.40" width="4.30" height="319.20" fill="#0b0b0b"/>
<rect x="1136.30" y="704.00" width="2.00" height="124.80" fill="#0b0b0b"/>
<line x1="1137.20" y1="183.80" x2="1215.80" y2="229.50" stroke="#111" stroke-width="2.4" stroke-linecap="square"/>
<line x1="1215.80" y1="229.50" x2="1199.70" y2="258.80" stroke="#111" stroke-width="2.0" stroke-linecap="butt"/>
<path d="M1199.66,258.86 A33.50,33.50 0 0 0 1244.69,246.45" stroke="#222" stroke-width="1.1" fill="none" />
<line x1="1245.20" y1="246.80" x2="1384.00" y2="327.00" stroke="#111" stroke-width="2.4" stroke-linecap="butt"/>
<rect x="1382.90" y="326.00" width="2.10" height="131.00" fill="#0b0b0b"/>
<rect x="1136.10" y="385.40" width="172.20" height="4.60" fill="#0b0b0b"/>
<rect x="1304.60" y="385.40" width="3.70" height="74.60" fill="#0b0b0b"/>
<rect x="1304.60" y="456.40" width="80.40" height="3.60" fill="#0b0b0b"/>
<rect x="1380.60" y="456.40" width="4.40" height="282.80" fill="#0b0b0b"/>
<rect x="1136.10" y="700.00" width="68.10" height="4.60" fill="#0b0b0b"/>
<rect x="1200.40" y="700.00" width="3.80" height="39.20" fill="#0b0b0b"/>
<rect x="1200.40" y="734.60" width="184.60" height="4.60" fill="#0b0b0b"/>
<rect x="1383.30" y="739.00" width="2.00" height="89.90" fill="#0b0b0b"/>
<rect x="1136.30" y="826.90" width="249.00" height="2.00" fill="#0b0b0b"/>
<path d="M1154.4,385.4 L1154.4,214.9 L1206.3,244.3 L1215.3,230" fill="none" stroke="#999" stroke-width="1.1"/>
<path d="M1245.6,248.2 L1236.5,262.8 L1368.6,339 L1368.6,456.4" fill="none" stroke="#999" stroke-width="1.1"/>
<rect x="1138.3" y="704.6" width="5.2" height="66.2" fill="none" stroke="#999" stroke-width="0.9"/>
<path d="M1173.5,704.6 L1173.5,770.5 Q1193,762 1200.4,739.2" fill="none" stroke="#999" stroke-width="0.9"/>
<circle cx="1148.70" cy="205.30" r="4.50" fill="#f2f2f2" stroke="#666" stroke-width="1.1"/>
<path d="M1148.70,205.30 Q1150.91,206.85 1152.83,206.41" stroke="#8a8a8a" stroke-width="0.7" fill="none" />
<path d="M1148.70,205.30 Q1148.46,207.99 1149.81,209.43" stroke="#8a8a8a" stroke-width="0.7" fill="none" />
<path d="M1148.70,205.30 Q1146.25,206.44 1145.68,208.32" stroke="#8a8a8a" stroke-width="0.7" fill="none" />
<path d="M1148.70,205.30 Q1146.49,203.75 1144.57,204.19" stroke="#8a8a8a" stroke-width="0.7" fill="none" />
<path d="M1148.70,205.30 Q1148.94,202.61 1147.59,201.17" stroke="#8a8a8a" stroke-width="0.7" fill="none" />
<path d="M1148.70,205.30 Q1151.15,204.16 1151.72,202.28" stroke="#8a8a8a" stroke-width="0.7" fill="none" />
<circle cx="1169.40" cy="213.90" r="6.20" fill="#f2f2f2" stroke="#666" stroke-width="1.1"/>
<path d="M1169.40,213.90 Q1172.45,216.03 1175.09,215.42" stroke="#8a8a8a" stroke-width="0.7" fill="none" />
<path d="M1169.40,213.90 Q1169.08,217.61 1170.92,219.59" stroke="#8a8a8a" stroke-width="0.7" fill="none" />
<path d="M1169.40,213.90 Q1166.03,215.47 1165.24,218.06" stroke="#8a8a8a" stroke-width="0.7" fill="none" />
<path d="M1169.40,213.90 Q1166.35,211.77 1163.71,212.38" stroke="#8a8a8a" stroke-width="0.7" fill="none" />
<path d="M1169.40,213.90 Q1169.72,210.19 1167.88,208.21" stroke="#8a8a8a" stroke-width="0.7" fill="none" />
<path d="M1169.40,213.90 Q1172.77,212.33 1173.56,209.74" stroke="#8a8a8a" stroke-width="0.7" fill="none" />
<circle cx="1194.10" cy="227.50" r="11.00" fill="#f2f2f2" stroke="#777" stroke-width="1.0"/>
<path d="M1194.10,227.50 Q1199.51,231.29 1204.19,230.20" stroke="#8a8a8a" stroke-width="0.7" fill="none" />
<path d="M1194.10,227.50 Q1195.81,233.88 1200.09,236.06" stroke="#8a8a8a" stroke-width="0.7" fill="none" />
<path d="M1194.10,227.50 Q1191.31,233.48 1193.19,237.91" stroke="#8a8a8a" stroke-width="0.7" fill="none" />
<path d="M1194.10,227.50 Q1188.12,230.29 1186.71,234.89" stroke="#8a8a8a" stroke-width="0.7" fill="none" />
<path d="M1194.10,227.50 Q1187.72,225.79 1183.69,228.41" stroke="#8a8a8a" stroke-width="0.7" fill="none" />
<path d="M1194.10,227.50 Q1190.31,222.09 1185.54,221.51" stroke="#8a8a8a" stroke-width="0.7" fill="none" />
<path d="M1194.10,227.50 Q1194.68,220.93 1191.40,217.41" stroke="#8a8a8a" stroke-width="0.7" fill="none" />
<path d="M1194.10,227.50 Q1198.77,222.83 1198.52,218.03" stroke="#8a8a8a" stroke-width="0.7" fill="none" />
<path d="M1194.10,227.50 Q1200.67,226.92 1203.57,223.08" stroke="#8a8a8a" stroke-width="0.7" fill="none" />
<circle cx="1146.20" cy="252.20" r="8.00" fill="#f2f2f2" stroke="#777" stroke-width="1.0"/>
<path d="M1146.20,252.20 Q1150.13,254.95 1153.54,254.17" stroke="#8a8a8a" stroke-width="0.7" fill="none" />
<path d="M1146.20,252.20 Q1147.44,256.84 1150.56,258.43" stroke="#8a8a8a" stroke-width="0.7" fill="none" />
<path d="M1146.20,252.20 Q1144.17,256.55 1145.54,259.77" stroke="#8a8a8a" stroke-width="0.7" fill="none" />
<path d="M1146.20,252.20 Q1141.85,254.23 1140.83,257.57" stroke="#8a8a8a" stroke-width="0.7" fill="none" />
<path d="M1146.20,252.20 Q1141.56,250.96 1138.63,252.86" stroke="#8a8a8a" stroke-width="0.7" fill="none" />
<path d="M1146.20,252.20 Q1143.45,248.27 1139.97,247.84" stroke="#8a8a8a" stroke-width="0.7" fill="none" />
<path d="M1146.20,252.20 Q1146.62,247.42 1144.23,244.86" stroke="#8a8a8a" stroke-width="0.7" fill="none" />
<path d="M1146.20,252.20 Q1149.59,248.81 1149.41,245.31" stroke="#8a8a8a" stroke-width="0.7" fill="none" />
<path d="M1146.20,252.20 Q1150.98,251.78 1153.09,248.99" stroke="#8a8a8a" stroke-width="0.7" fill="none" />
<circle cx="1145.80" cy="316.90" r="8.00" fill="#f2f2f2" stroke="#777" stroke-width="1.0"/>
<path d="M1145.80,316.90 Q1149.73,319.65 1153.14,318.87" stroke="#8a8a8a" stroke-width="0.7" fill="none" />
<path d="M1145.80,316.90 Q1147.04,321.54 1150.16,323.13" stroke="#8a8a8a" stroke-width="0.7" fill="none" />
<path d="M1145.80,316.90 Q1143.77,321.25 1145.14,324.47" stroke="#8a8a8a" stroke-width="0.7" fill="none" />
<path d="M1145.80,316.90 Q1141.45,318.93 1140.43,322.27" stroke="#8a8a8a" stroke-width="0.7" fill="none" />
<path d="M1145.80,316.90 Q1141.16,315.66 1138.23,317.56" stroke="#8a8a8a" stroke-width="0.7" fill="none" />
<path d="M1145.80,316.90 Q1143.05,312.97 1139.57,312.54" stroke="#8a8a8a" stroke-width="0.7" fill="none" />
<path d="M1145.80,316.90 Q1146.22,312.12 1143.83,309.56" stroke="#8a8a8a" stroke-width="0.7" fill="none" />
<path d="M1145.80,316.90 Q1149.19,313.51 1149.01,310.01" stroke="#8a8a8a" stroke-width="0.7" fill="none" />
<path d="M1145.80,316.90 Q1150.58,316.48 1152.69,313.69" stroke="#8a8a8a" stroke-width="0.7" fill="none" />
<circle cx="1145.80" cy="363.80" r="6.30" fill="#f2f2f2" stroke="#666" stroke-width="1.1"/>
<path d="M1145.80,363.80 Q1148.90,365.97 1151.58,365.35" stroke="#8a8a8a" stroke-width="0.7" fill="none" />
<path d="M1145.80,363.80 Q1145.47,367.57 1147.35,369.58" stroke="#8a8a8a" stroke-width="0.7" fill="none" />
<path d="M1145.80,363.80 Q1142.37,365.40 1141.57,368.03" stroke="#8a8a8a" stroke-width="0.7" fill="none" />
<path d="M1145.80,363.80 Q1142.70,361.63 1140.02,362.25" stroke="#8a8a8a" stroke-width="0.7" fill="none" />
<path d="M1145.80,363.80 Q1146.13,360.03 1144.25,358.02" stroke="#8a8a8a" stroke-width="0.7" fill="none" />
<path d="M1145.80,363.80 Q1149.23,362.20 1150.03,359.57" stroke="#8a8a8a" stroke-width="0.7" fill="none" />
<circle cx="1259.10" cy="266.40" r="11.50" fill="#f2f2f2" stroke="#777" stroke-width="1.0"/>
<path d="M1259.10,266.40 Q1264.75,270.36 1269.65,269.23" stroke="#8a8a8a" stroke-width="0.7" fill="none" />
<path d="M1259.10,266.40 Q1260.89,273.06 1265.37,275.35" stroke="#8a8a8a" stroke-width="0.7" fill="none" />
<path d="M1259.10,266.40 Q1256.18,272.65 1258.15,277.28" stroke="#8a8a8a" stroke-width="0.7" fill="none" />
<path d="M1259.10,266.40 Q1252.85,269.32 1251.37,274.13" stroke="#8a8a8a" stroke-width="0.7" fill="none" />
<path d="M1259.10,266.40 Q1252.44,264.61 1248.22,267.35" stroke="#8a8a8a" stroke-width="0.7" fill="none" />
<path d="M1259.10,266.40 Q1255.14,260.75 1250.15,260.13" stroke="#8a8a8a" stroke-width="0.7" fill="none" />
<path d="M1259.10,266.40 Q1259.70,259.53 1256.27,255.85" stroke="#8a8a8a" stroke-width="0.7" fill="none" />
<path d="M1259.10,266.40 Q1263.98,261.52 1263.72,256.50" stroke="#8a8a8a" stroke-width="0.7" fill="none" />
<path d="M1259.10,266.40 Q1265.97,265.80 1269.00,261.78" stroke="#8a8a8a" stroke-width="0.7" fill="none" />
<circle cx="1282.20" cy="278.50" r="6.50" fill="#f2f2f2" stroke="#666" stroke-width="1.1"/>
<path d="M1282.20,278.50 Q1285.39,280.74 1288.16,280.10" stroke="#8a8a8a" stroke-width="0.7" fill="none" />
<path d="M1282.20,278.50 Q1281.86,282.39 1283.80,284.46" stroke="#8a8a8a" stroke-width="0.7" fill="none" />
<path d="M1282.20,278.50 Q1278.67,280.15 1277.83,282.87" stroke="#8a8a8a" stroke-width="0.7" fill="none" />
<path d="M1282.20,278.50 Q1279.01,276.26 1276.24,276.90" stroke="#8a8a8a" stroke-width="0.7" fill="none" />
<path d="M1282.20,278.50 Q1282.54,274.61 1280.60,272.54" stroke="#8a8a8a" stroke-width="0.7" fill="none" />
<path d="M1282.20,278.50 Q1285.73,276.85 1286.57,274.13" stroke="#8a8a8a" stroke-width="0.7" fill="none" />
<circle cx="1301.20" cy="285.50" r="6.50" fill="#f2f2f2" stroke="#666" stroke-width="1.1"/>
<path d="M1301.20,285.50 Q1304.39,287.74 1307.16,287.10" stroke="#8a8a8a" stroke-width="0.7" fill="none" />
<path d="M1301.20,285.50 Q1300.86,289.39 1302.80,291.46" stroke="#8a8a8a" stroke-width="0.7" fill="none" />
<path d="M1301.20,285.50 Q1297.67,287.15 1296.83,289.87" stroke="#8a8a8a" stroke-width="0.7" fill="none" />
<path d="M1301.20,285.50 Q1298.01,283.26 1295.24,283.90" stroke="#8a8a8a" stroke-width="0.7" fill="none" />
<path d="M1301.20,285.50 Q1301.54,281.61 1299.60,279.54" stroke="#8a8a8a" stroke-width="0.7" fill="none" />
<path d="M1301.20,285.50 Q1304.73,283.85 1305.57,281.13" stroke="#8a8a8a" stroke-width="0.7" fill="none" />
<circle cx="1313.30" cy="298.70" r="6.50" fill="#f2f2f2" stroke="#666" stroke-width="1.1"/>
<path d="M1313.30,298.70 Q1316.49,300.94 1319.26,300.30" stroke="#8a8a8a" stroke-width="0.7" fill="none" />
<path d="M1313.30,298.70 Q1312.96,302.59 1314.90,304.66" stroke="#8a8a8a" stroke-width="0.7" fill="none" />
<path d="M1313.30,298.70 Q1309.77,300.35 1308.93,303.07" stroke="#8a8a8a" stroke-width="0.7" fill="none" />
<path d="M1313.30,298.70 Q1310.11,296.46 1307.34,297.10" stroke="#8a8a8a" stroke-width="0.7" fill="none" />
<path d="M1313.30,298.70 Q1313.64,294.81 1311.70,292.74" stroke="#8a8a8a" stroke-width="0.7" fill="none" />
<path d="M1313.30,298.70 Q1316.83,297.05 1317.67,294.33" stroke="#8a8a8a" stroke-width="0.7" fill="none" />
<circle cx="1331.80" cy="309.10" r="6.50" fill="#f2f2f2" stroke="#666" stroke-width="1.1"/>
<path d="M1331.80,309.10 Q1334.99,311.34 1337.76,310.70" stroke="#8a8a8a" stroke-width="0.7" fill="none" />
<path d="M1331.80,309.10 Q1331.46,312.99 1333.40,315.06" stroke="#8a8a8a" stroke-width="0.7" fill="none" />
<path d="M1331.80,309.10 Q1328.27,310.75 1327.43,313.47" stroke="#8a8a8a" stroke-width="0.7" fill="none" />
<path d="M1331.80,309.10 Q1328.61,306.86 1325.84,307.50" stroke="#8a8a8a" stroke-width="0.7" fill="none" />
<path d="M1331.80,309.10 Q1332.14,305.21 1330.20,303.14" stroke="#8a8a8a" stroke-width="0.7" fill="none" />
<path d="M1331.80,309.10 Q1335.33,307.45 1336.17,304.73" stroke="#8a8a8a" stroke-width="0.7" fill="none" />
<circle cx="1370.40" cy="333.00" r="14.60" fill="#f2f2f2" stroke="#777" stroke-width="1.0"/>
<path d="M1370.40,333.00 Q1377.58,338.02 1383.80,336.59" stroke="#8a8a8a" stroke-width="0.7" fill="none" />
<path d="M1370.40,333.00 Q1372.67,341.46 1378.36,344.36" stroke="#8a8a8a" stroke-width="0.7" fill="none" />
<path d="M1370.40,333.00 Q1366.70,340.94 1369.19,346.82" stroke="#8a8a8a" stroke-width="0.7" fill="none" />
<path d="M1370.40,333.00 Q1362.46,336.70 1360.59,342.81" stroke="#8a8a8a" stroke-width="0.7" fill="none" />
<path d="M1370.40,333.00 Q1361.94,330.73 1356.58,334.21" stroke="#8a8a8a" stroke-width="0.7" fill="none" />
<path d="M1370.40,333.00 Q1365.38,325.82 1359.04,325.04" stroke="#8a8a8a" stroke-width="0.7" fill="none" />
<path d="M1370.40,333.00 Q1371.16,324.27 1366.81,319.60" stroke="#8a8a8a" stroke-width="0.7" fill="none" />
<path d="M1370.40,333.00 Q1376.59,326.81 1376.26,320.43" stroke="#8a8a8a" stroke-width="0.7" fill="none" />
<path d="M1370.40,333.00 Q1379.13,332.24 1382.97,327.14" stroke="#8a8a8a" stroke-width="0.7" fill="none" />
<circle cx="1375.90" cy="416.10" r="6.50" fill="#f2f2f2" stroke="#666" stroke-width="1.1"/>
<path d="M1375.90,416.10 Q1379.09,418.34 1381.86,417.70" stroke="#8a8a8a" stroke-width="0.7" fill="none" />
<path d="M1375.90,416.10 Q1375.56,419.99 1377.50,422.06" stroke="#8a8a8a" stroke-width="0.7" fill="none" />
<path d="M1375.90,416.10 Q1372.37,417.75 1371.53,420.47" stroke="#8a8a8a" stroke-width="0.7" fill="none" />
<path d="M1375.90,416.10 Q1372.71,413.86 1369.94,414.50" stroke="#8a8a8a" stroke-width="0.7" fill="none" />
<path d="M1375.90,416.10 Q1376.24,412.21 1374.30,410.14" stroke="#8a8a8a" stroke-width="0.7" fill="none" />
<path d="M1375.90,416.10 Q1379.43,414.45 1380.27,411.73" stroke="#8a8a8a" stroke-width="0.7" fill="none" />
<circle cx="1377.70" cy="436.30" r="6.00" fill="#f2f2f2" stroke="#666" stroke-width="1.1"/>
<path d="M1377.70,436.30 Q1380.65,438.36 1383.21,437.78" stroke="#8a8a8a" stroke-width="0.7" fill="none" />
<path d="M1377.70,436.30 Q1377.39,439.89 1379.18,441.81" stroke="#8a8a8a" stroke-width="0.7" fill="none" />
<path d="M1377.70,436.30 Q1374.44,437.82 1373.67,440.33" stroke="#8a8a8a" stroke-width="0.7" fill="none" />
<path d="M1377.70,436.30 Q1374.75,434.24 1372.19,434.82" stroke="#8a8a8a" stroke-width="0.7" fill="none" />
<path d="M1377.70,436.30 Q1378.01,432.71 1376.22,430.79" stroke="#8a8a8a" stroke-width="0.7" fill="none" />
<path d="M1377.70,436.30 Q1380.96,434.78 1381.73,432.27" stroke="#8a8a8a" stroke-width="0.7" fill="none" />
<circle cx="1375.00" cy="450.00" r="6.50" fill="#f2f2f2" stroke="#666" stroke-width="1.1"/>
<path d="M1375.00,450.00 Q1378.19,452.24 1380.96,451.60" stroke="#8a8a8a" stroke-width="0.7" fill="none" />
<path d="M1375.00,450.00 Q1374.66,453.89 1376.60,455.96" stroke="#8a8a8a" stroke-width="0.7" fill="none" />
<path d="M1375.00,450.00 Q1371.47,451.65 1370.63,454.37" stroke="#8a8a8a" stroke-width="0.7" fill="none" />
<path d="M1375.00,450.00 Q1371.81,447.76 1369.04,448.40" stroke="#8a8a8a" stroke-width="0.7" fill="none" />
<path d="M1375.00,450.00 Q1375.34,446.11 1373.40,444.04" stroke="#8a8a8a" stroke-width="0.7" fill="none" />
<path d="M1375.00,450.00 Q1378.53,448.35 1379.37,445.63" stroke="#8a8a8a" stroke-width="0.7" fill="none" />
<circle cx="1140.40" cy="713.00" r="4.50" fill="#f2f2f2" stroke="#666" stroke-width="1.1"/>
<path d="M1140.40,713.00 Q1142.61,714.55 1144.53,714.11" stroke="#8a8a8a" stroke-width="0.7" fill="none" />
<path d="M1140.40,713.00 Q1140.16,715.69 1141.51,717.13" stroke="#8a8a8a" stroke-width="0.7" fill="none" />
<path d="M1140.40,713.00 Q1137.95,714.14 1137.38,716.02" stroke="#8a8a8a" stroke-width="0.7" fill="none" />
<path d="M1140.40,713.00 Q1138.19,711.45 1136.27,711.89" stroke="#8a8a8a" stroke-width="0.7" fill="none" />
<path d="M1140.40,713.00 Q1140.64,710.31 1139.29,708.87" stroke="#8a8a8a" stroke-width="0.7" fill="none" />
<path d="M1140.40,713.00 Q1142.85,711.86 1143.42,709.98" stroke="#8a8a8a" stroke-width="0.7" fill="none" />
<circle cx="1140.40" cy="734.60" r="4.50" fill="#f2f2f2" stroke="#666" stroke-width="1.1"/>
<path d="M1140.40,734.60 Q1142.61,736.15 1144.53,735.71" stroke="#8a8a8a" stroke-width="0.7" fill="none" />
<path d="M1140.40,734.60 Q1140.16,737.29 1141.51,738.73" stroke="#8a8a8a" stroke-width="0.7" fill="none" />
<path d="M1140.40,734.60 Q1137.95,735.74 1137.38,737.62" stroke="#8a8a8a" stroke-width="0.7" fill="none" />
<path d="M1140.40,734.60 Q1138.19,733.05 1136.27,733.49" stroke="#8a8a8a" stroke-width="0.7" fill="none" />
<path d="M1140.40,734.60 Q1140.64,731.91 1139.29,730.47" stroke="#8a8a8a" stroke-width="0.7" fill="none" />
<path d="M1140.40,734.60 Q1142.85,733.46 1143.42,731.58" stroke="#8a8a8a" stroke-width="0.7" fill="none" />
<circle cx="1140.40" cy="753.00" r="4.50" fill="#f2f2f2" stroke="#666" stroke-width="1.1"/>
<path d="M1140.40,753.00 Q1142.61,754.55 1144.53,754.11" stroke="#8a8a8a" stroke-width="0.7" fill="none" />
<path d="M1140.40,753.00 Q1140.16,755.69 1141.51,757.13" stroke="#8a8a8a" stroke-width="0.7" fill="none" />
<path d="M1140.40,753.00 Q1137.95,754.14 1137.38,756.02" stroke="#8a8a8a" stroke-width="0.7" fill="none" />
<path d="M1140.40,753.00 Q1138.19,751.45 1136.27,751.89" stroke="#8a8a8a" stroke-width="0.7" fill="none" />
<path d="M1140.40,753.00 Q1140.64,750.31 1139.29,748.87" stroke="#8a8a8a" stroke-width="0.7" fill="none" />
<path d="M1140.40,753.00 Q1142.85,751.86 1143.42,749.98" stroke="#8a8a8a" stroke-width="0.7" fill="none" />
<circle cx="1177.30" cy="713.00" r="4.50" fill="#f2f2f2" stroke="#666" stroke-width="1.1"/>
<path d="M1177.30,713.00 Q1179.51,714.55 1181.43,714.11" stroke="#8a8a8a" stroke-width="0.7" fill="none" />
<path d="M1177.30,713.00 Q1177.06,715.69 1178.41,717.13" stroke="#8a8a8a" stroke-width="0.7" fill="none" />
<path d="M1177.30,713.00 Q1174.85,714.14 1174.28,716.02" stroke="#8a8a8a" stroke-width="0.7" fill="none" />
<path d="M1177.30,713.00 Q1175.09,711.45 1173.17,711.89" stroke="#8a8a8a" stroke-width="0.7" fill="none" />
<path d="M1177.30,713.00 Q1177.54,710.31 1176.19,708.87" stroke="#8a8a8a" stroke-width="0.7" fill="none" />
<path d="M1177.30,713.00 Q1179.75,711.86 1180.32,709.98" stroke="#8a8a8a" stroke-width="0.7" fill="none" />
<circle cx="1177.30" cy="734.60" r="4.50" fill="#f2f2f2" stroke="#666" stroke-width="1.1"/>
<path d="M1177.30,734.60 Q1179.51,736.15 1181.43,735.71" stroke="#8a8a8a" stroke-width="0.7" fill="none" />
<path d="M1177.30,734.60 Q1177.06,737.29 1178.41,738.73" stroke="#8a8a8a" stroke-width="0.7" fill="none" />
<path d="M1177.30,734.60 Q1174.85,735.74 1174.28,737.62" stroke="#8a8a8a" stroke-width="0.7" fill="none" />
<path d="M1177.30,734.60 Q1175.09,733.05 1173.17,733.49" stroke="#8a8a8a" stroke-width="0.7" fill="none" />
<path d="M1177.30,734.60 Q1177.54,731.91 1176.19,730.47" stroke="#8a8a8a" stroke-width="0.7" fill="none" />
<path d="M1177.30,734.60 Q1179.75,733.46 1180.32,731.58" stroke="#8a8a8a" stroke-width="0.7" fill="none" />
<circle cx="1177.30" cy="753.00" r="4.50" fill="#f2f2f2" stroke="#666" stroke-width="1.1"/>
<path d="M1177.30,753.00 Q1179.51,754.55 1181.43,754.11" stroke="#8a8a8a" stroke-width="0.7" fill="none" />
<path d="M1177.30,753.00 Q1177.06,755.69 1178.41,757.13" stroke="#8a8a8a" stroke-width="0.7" fill="none" />
<path d="M1177.30,753.00 Q1174.85,754.14 1174.28,756.02" stroke="#8a8a8a" stroke-width="0.7" fill="none" />
<path d="M1177.30,753.00 Q1175.09,751.45 1173.17,751.89" stroke="#8a8a8a" stroke-width="0.7" fill="none" />
<path d="M1177.30,753.00 Q1177.54,750.31 1176.19,748.87" stroke="#8a8a8a" stroke-width="0.7" fill="none" />
<path d="M1177.30,753.00 Q1179.75,751.86 1180.32,749.98" stroke="#8a8a8a" stroke-width="0.7" fill="none" />
<circle cx="1191.20" cy="734.60" r="9.50" fill="#f2f2f2" stroke="#777" stroke-width="1.0"/>
<path d="M1191.20,734.60 Q1195.87,737.87 1199.92,736.94" stroke="#8a8a8a" stroke-width="0.7" fill="none" />
<path d="M1191.20,734.60 Q1192.68,740.11 1196.38,741.99" stroke="#8a8a8a" stroke-width="0.7" fill="none" />
<path d="M1191.20,734.60 Q1188.79,739.77 1190.41,743.59" stroke="#8a8a8a" stroke-width="0.7" fill="none" />
<path d="M1191.20,734.60 Q1186.03,737.01 1184.82,740.98" stroke="#8a8a8a" stroke-width="0.7" fill="none" />
<path d="M1191.20,734.60 Q1185.69,733.12 1182.21,735.39" stroke="#8a8a8a" stroke-width="0.7" fill="none" />
<path d="M1191.20,734.60 Q1187.93,729.93 1183.81,729.42" stroke="#8a8a8a" stroke-width="0.7" fill="none" />
<path d="M1191.20,734.60 Q1191.70,728.92 1188.86,725.88" stroke="#8a8a8a" stroke-width="0.7" fill="none" />
<path d="M1191.20,734.60 Q1195.23,730.57 1195.01,726.42" stroke="#8a8a8a" stroke-width="0.7" fill="none" />
<path d="M1191.20,734.60 Q1196.88,734.10 1199.38,730.79" stroke="#8a8a8a" stroke-width="0.7" fill="none" />
<text x="1229.24" y="229.40" font-size="19.33" textLength="41.22" lengthAdjust="spacingAndGlyphs" fill="#111" stroke="#111" stroke-width="0.56">(Row)</text>
<text x="1212.91" y="347.80" font-size="20.06" textLength="67.88" lengthAdjust="spacingAndGlyphs" fill="#111" stroke="#111" stroke-width="0.58">Courtyard</text>
<text x="1202.28" y="586.40" font-size="32.12" textLength="116.62" lengthAdjust="spacingAndGlyphs" fill="#111" stroke="#111" stroke-width="0.93">Residence</text>
<text x="1232.43" y="796.50" font-size="19.33" textLength="63.50" lengthAdjust="spacingAndGlyphs" fill="#111" stroke="#111" stroke-width="0.56">Driveway</text>
<circle cx="735.5" cy="89.7" r="22.6" fill="none" stroke="#8a8a8a" stroke-width="1.1"/>
<circle cx="735.5" cy="89.7" r="20.6" fill="none" stroke="#8a8a8a" stroke-width="1.0"/>
<path d="M760.0,106.9 L718.1,92.3 L729.2,86.2 Z" fill="#0b0b0b"/>
<path d="M760.0,106.9 L729.2,86.2 L731.9,72.3 Z" fill="#fff" stroke="#333" stroke-width="0.9" stroke-linejoin="miter"/>
<text x="763.81" y="117.70" font-size="16.72" textLength="10.47" lengthAdjust="spacingAndGlyphs" fill="#111" stroke="#111" stroke-width="0.48">N</text>
<text x="297.23" y="959.30" font-size="15.99" textLength="878.31" lengthAdjust="spacingAndGlyphs" fill="#1a1a1a" stroke="#1a1a1a" stroke-width="0.46">While every attempt has been made to ensure the accuracy of the floor plan detailed here, measurements of doors, windows, rooms</text>
<text x="298.55" y="980.40" font-size="15.99" textLength="875.04" lengthAdjust="spacingAndGlyphs" fill="#1a1a1a" stroke="#1a1a1a" stroke-width="0.46">and any other items are approximate and no responsibility, implied or otherwise, is taken for any error, omissions or misstatement.</text>
<text x="399.66" y="1000.50" font-size="15.99" textLength="672.79" lengthAdjust="spacingAndGlyphs" fill="#1a1a1a" stroke="#1a1a1a" stroke-width="0.46">This plan is for illustrative purposes only and should be utilised as such by any prospective purchaser</text>
</svg>
</body></html>
